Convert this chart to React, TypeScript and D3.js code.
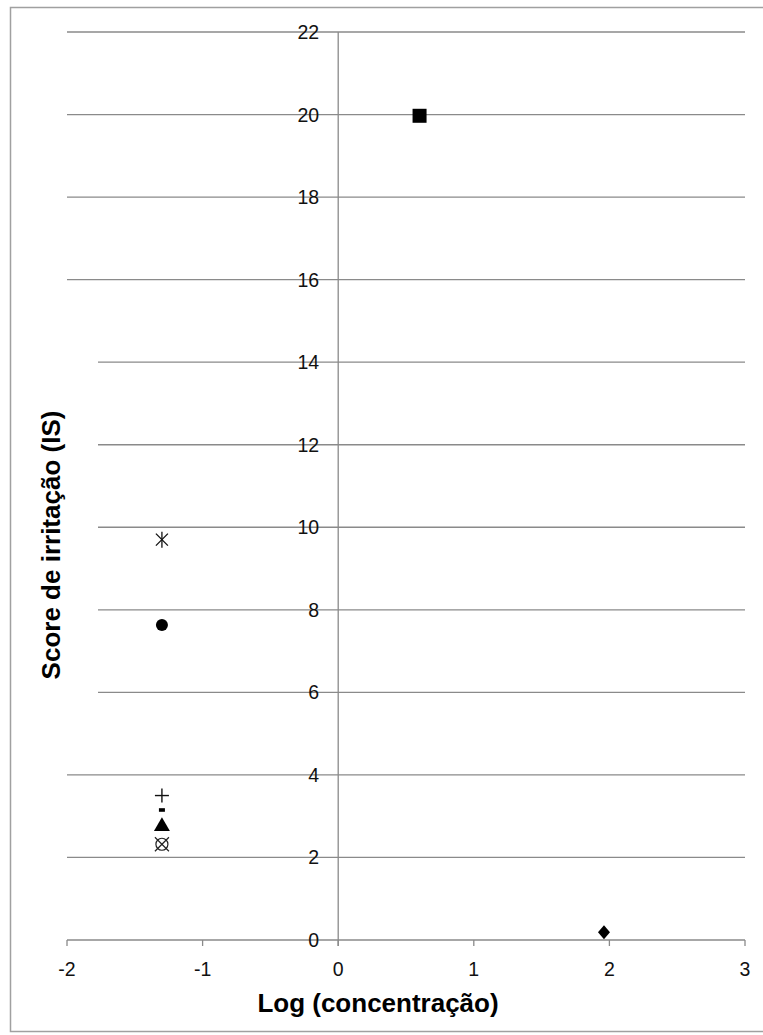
import React from 'react';
import * as d3 from 'd3';

// values
const xTicks = [-2, -1, 0, 1, 2, 3];
const yTicks = [0, 2, 4, 6, 8, 10, 12, 14, 16, 18, 20, 22];
const pointX = [-1.3, -1.3, -1.3, -1.3, -1.3, -1.3, 0.6, 1.96];
const pointY = [9.7, 7.63, 3.5, 3.15, 2.75, 2.32, 19.97, 0.19];
const markerShapes = ['asterisk', 'circle', 'plus', 'dash', 'triangle', 'circleX', 'square', 'diamond'];

const width = 763;
const height = 1035;
const font = 'Arial, "Liberation Sans", sans-serif';
const gridColor = '#8a8a8a';

const x = d3.scaleLinear().domain([-2, 3]).range([67, 745]);
const y = d3.scaleLinear().domain([0, 22]).range([940, 32]);

const Marker: React.FC<{ shape: string; cx: number; cy: number }> = ({ shape, cx, cy }) => {
  const t = `translate(${cx},${cy})`;
  switch (shape) {
    case 'asterisk':
      return (
        <g transform={t} stroke="#111" strokeWidth={1.3}>
          <line x1={0} y1={-8} x2={0} y2={8} />
          <line x1={-6} y1={-6} x2={6} y2={6} />
          <line x1={-6} y1={6} x2={6} y2={-6} />
        </g>
      );
    case 'circle':
      return <circle cx={cx} cy={cy} r={6} fill="#000" />;
    case 'plus':
      return (
        <g transform={t} stroke="#111" strokeWidth={1.4}>
          <line x1={-7} y1={0} x2={7} y2={0} />
          <line x1={0} y1={-7} x2={0} y2={7} />
        </g>
      );
    case 'dash':
      return <rect x={cx - 3} y={cy - 1.8} width={6} height={3.6} fill="#000" />;
    case 'triangle':
      return <path transform={t} d={d3.symbol(d3.symbolTriangle, 110)() || ''} fill="#000" />;
    case 'circleX':
      return (
        <g transform={t} stroke="#222" strokeWidth={1.2} fill="none">
          <circle r={6} />
          <line x1={-7} y1={-7} x2={7} y2={7} />
          <line x1={-7} y1={7} x2={7} y2={-7} />
        </g>
      );
    case 'square':
      return <rect x={cx - 7} y={cy - 7} width={14} height={14} fill="#000" />;
    case 'diamond':
      return <path transform={t} d="M0,-7L6,0L0,7L-6,0Z" fill="#000" />;
    default:
      return null;
  }
};

export default function App() {
  const x0 = x(0);
  return (
    <svg
      width={width}
      height={height}
      style={{ position: 'absolute', left: 0, top: 0, background: '#fff' }}
      fontFamily={font}
    >
      <rect x={0} y={0} width={width} height={height} fill="#fff" />
      {/* outer frame */}
      <rect x={10.5} y={7.5} width={780} height={1024} fill="none" stroke="#a0a0a0" strokeWidth={1.5} />

      {/* horizontal gridlines */}
      {yTicks.map(v => (
        <line key={'g' + v} x1={x(-2)} x2={x(3)} y1={y(v)} y2={y(v)} stroke={gridColor} strokeWidth={1.3} />
      ))}

      {/* y axis at x = 0 */}
      <line x1={x0} x2={x0} y1={y(22)} y2={y(0) + 6} stroke={gridColor} strokeWidth={1.3} />

      {/* x ticks */}
      {xTicks.map(v => (
        <g key={'x' + v}>
          <line x1={x(v)} x2={x(v)} y1={y(0)} y2={y(0) + 6} stroke={gridColor} strokeWidth={1.3} />
          <text x={x(v)} y={y(0) + 36} textAnchor="middle" fontSize={19.5} fill="#111">
            {v}
          </text>
        </g>
      ))}

      {/* y tick labels */}
      {yTicks.map(v => (
        <text key={'yl' + v} x={x0 - 19} y={y(v)} dy="0.36em" textAnchor="end" fontSize={19.5} fill="#111">
          {v}
        </text>
      ))}

      {/* y title with white backing */}
      <rect x={20} y={345} width={78} height={370} fill="#fff" />
      <text
        transform="translate(60,545) rotate(-90)"
        textAnchor="middle"
        fontSize={26}
        fontWeight="bold"
        fill="#000"
      >
        Score de irritação (IS)
      </text>

      {/* x title */}
      <text x={378} y={1012} textAnchor="middle" fontSize={26} fontWeight="bold" fill="#000">
        Log (concentração)
      </text>

      {/* points */}
      {pointX.map((px, i) => (
        <Marker key={'p' + i} shape={markerShapes[i]} cx={x(px)} cy={y(pointY[i])} />
      ))}
    </svg>
  );
}
